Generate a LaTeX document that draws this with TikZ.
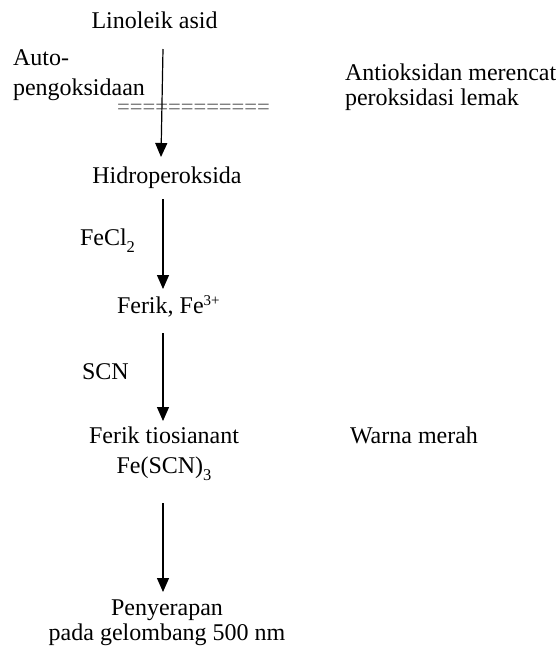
\documentclass[tikz,border=0pt]{standalone}
\usepackage{fontspec}
\setmainfont{Liberation Serif}
\usetikzlibrary{arrows.meta}
\newcommand\lowsub[1]{\raisebox{-7.5pt}{\fontsize{16.5}{16.5}\selectfont #1}}
\newcommand\highsup[1]{\raisebox{8pt}{\fontsize{15}{15}\selectfont #1}}
\begin{document}
\begin{tikzpicture}[x=1pt,y=-1pt,
  lbl/.style={inner sep=0pt,outer sep=0pt,font=\fontsize{24}{25}\selectfont},
  two/.style={lbl,align=center},
  twol/.style={lbl,align=left},
  arr/.style={line width=1.2pt,-{Triangle[length=14pt,width=12pt]}}]
\useasboundingbox (0,0) rectangle (556,649);
% nodes (base anchor of a multi-line node = baseline of its last line)
\node[lbl,anchor=base] (lin) at (154.5,28) {Linoleik asid};
\node[twol,anchor=base west] (auto) at (13,95) {Auto-\\[5pt]pengoksidaan};
\node[twol,anchor=base west] (anti) at (345,105) {Antioksidan merencat\\peroksidasi lemak};
\node[inner sep=0pt,anchor=base,text=black!62,font=\fontsize{22.6}{24}\selectfont] (eq) at (193.5,114) {============};
\node[lbl,anchor=base] (hid) at (167,183) {Hidroperoksida};
\node[lbl,anchor=base west] (fecl) at (80,245) {FeCl\lowsub{2}};
\node[lbl,anchor=base west] (ferik) at (117,313) {Ferik, Fe\highsup{3+}};
\node[lbl,anchor=base west] (scn) at (82,379) {SCN};
\node[two,anchor=base] (ft) at (164,473) {Ferik tiosianant\\[5pt]Fe(SCN)\lowsub{3}};
\node[lbl,anchor=base west] (warna) at (350,443) {Warna merah};
\node[two,anchor=base] (pen) at (167,640) {Penyerapan\\pada gelombang 500 nm};
% arrow end points
\coordinate (a1s) at (163,49);   \coordinate (a1e) at (161,157);
\coordinate (a2s) at (163,199);  \coordinate (a2e) at (163,289);
\coordinate (a3s) at (163,333);  \coordinate (a3e) at (163,421);
\coordinate (a4s) at (163,503);  \coordinate (a4e) at (163,592);
\draw[arr] (a1s) -- (a1e);
\draw[arr] (a2s) -- (a2e);
\draw[arr] (a3s) -- (a3e);
\draw[arr] (a4s) -- (a4e);
\end{tikzpicture}
\end{document}
